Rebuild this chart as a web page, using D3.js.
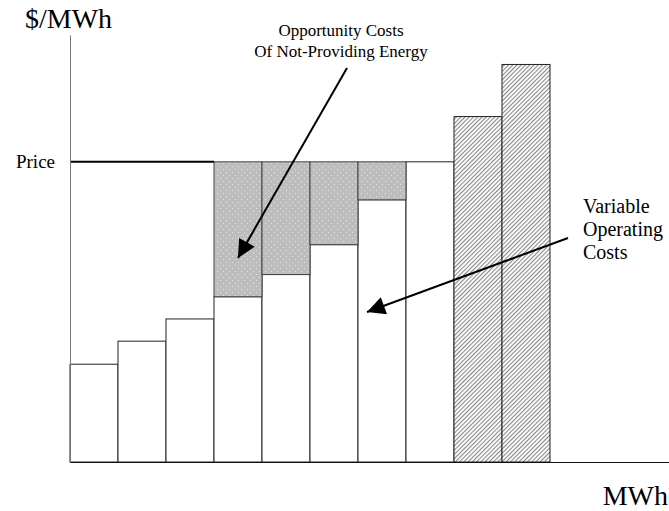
<!DOCTYPE html>
<html>
<meta charset="utf-8">
<style>
  body { margin: 0; background: #fff; }
  text { font-family: "Liberation Serif", "Times New Roman", serif; fill: #000; }
  .axis path { stroke-width: 1px; }
</style>
<script src="https://d3js.org/d3.v7.min.js"></script>
<body>
<script>
  var svgWidth = 669, svgHeight = 511;

  // one bar per generating unit, 1 MWh wide each
  var units = ["U1", "U2", "U3", "U4", "U5", "U6", "U7", "U8", "U9", "U10"];
  var costs = [22.9, 28.3, 33.5, 38.7, 43.9, 50.9, 61.4, 70.3, 80.9, 93.1];
  var kinds = ["plain", "plain", "plain", "opp", "opp", "opp", "opp", "plain", "hatch", "hatch"];
  var price = 70.3;

  var svg = d3.select("body").append("svg")
    .attr("width", svgWidth)
    .attr("height", svgHeight);

  var defs = svg.append("defs");

  // grey fill with little white dots
  var dots = defs.append("pattern")
    .attr("id", "dots")
    .attr("patternUnits", "userSpaceOnUse")
    .attr("width", 6).attr("height", 6);
  dots.append("rect").attr("width", 6).attr("height", 6).attr("fill", "#bdbdbd");
  dots.append("rect").attr("x", 1).attr("y", 1).attr("width", 1).attr("height", 1).attr("fill", "#e4e4e4");
  dots.append("rect").attr("x", 4).attr("y", 4).attr("width", 1).attr("height", 1).attr("fill", "#e4e4e4");

  // diagonal hatch
  var hatch = defs.append("pattern")
    .attr("id", "hatch")
    .attr("patternUnits", "userSpaceOnUse")
    .attr("width", 3).attr("height", 3)
    .attr("patternTransform", "rotate(45)");
  hatch.append("rect").attr("width", 3).attr("height", 3).attr("fill", "#fff");
  hatch.append("line").attr("x1", 0).attr("y1", 0).attr("x2", 0).attr("y2", 3)
    .attr("stroke", "#888").attr("stroke-width", 2.2);

  defs.append("marker")
    .attr("id", "head")
    .attr("viewBox", "0 0 10 10")
    .attr("refX", 10).attr("refY", 5)
    .attr("markerUnits", "userSpaceOnUse")
    .attr("markerWidth", 22).attr("markerHeight", 18)
    .attr("orient", "auto")
    .append("path").attr("d", "M0,0L10,5L0,10z").attr("fill", "#000");

  var x = d3.scaleLinear().domain([0, 12.5]).range([70, 670]);
  var y = d3.scaleLinear().domain([0, 100]).range([462, 35]);

  // bars
  svg.selectAll(".bar")
    .data(costs)
    .enter().append("rect")
    .attr("class", "bar")
    .attr("x", function(d, i) { return x(i); })
    .attr("y", function(d) { return y(d); })
    .attr("width", x(1) - x(0))
    .attr("height", function(d) { return y(0) - y(d); })
    .attr("fill", function(d, i) { return kinds[i] == "hatch" ? "url(#hatch)" : "#fff"; })
    .attr("stroke", "#222")
    .attr("stroke-width", 1);

  // opportunity cost blocks between cost and price
  svg.selectAll(".opp")
    .data(costs.map(function(c, i) { return {c: c, i: i}; }).filter(function(d) { return kinds[d.i] == "opp"; }))
    .enter().append("rect")
    .attr("class", "opp")
    .attr("x", function(d) { return x(d.i); })
    .attr("y", y(price))
    .attr("width", x(1) - x(0))
    .attr("height", function(d) { return y(d.c) - y(price); })
    .attr("fill", "url(#dots)")
    .attr("stroke", "#444")
    .attr("stroke-width", 1);

  // price line
  svg.append("line")
    .attr("x1", x(0)).attr("x2", x(3))
    .attr("y1", y(price)).attr("y2", y(price))
    .attr("stroke", "#000").attr("stroke-width", 2);

  // axes
  svg.append("g").attr("class", "axis")
    .attr("transform", "translate(" + x(0) + ",0)")
    .call(d3.axisLeft(y).tickValues([]).tickSizeOuter(0))
    .select("path").attr("stroke", "#777");

  svg.append("g").attr("class", "axis")
    .attr("transform", "translate(0," + y(0) + ")")
    .call(d3.axisBottom(x).tickValues([]).tickSizeOuter(0))
    .select("path").attr("stroke", "#111");

  // labels
  svg.append("text").attr("x", 25).attr("y", 28).attr("font-size", 28).text("$/MWh");
  svg.append("text").attr("x", 668).attr("y", 505).attr("font-size", 28)
    .attr("text-anchor", "end").text("MWh");
  svg.append("text").attr("x", 55).attr("y", 168).attr("font-size", 19)
    .attr("text-anchor", "end").text("Price");

  var oppLabel = svg.append("text").attr("font-size", 17).attr("text-anchor", "middle");
  oppLabel.append("tspan").attr("x", 341).attr("y", 36).text("Opportunity Costs");
  oppLabel.append("tspan").attr("x", 341).attr("y", 57).text("Of Not-Providing Energy");

  var side = svg.append("text").attr("font-size", 20);
  ["Variable", "Operating", "Costs"].forEach(function(s, i) {
    side.append("tspan").attr("x", 583).attr("y", 213 + i * 23).text(s);
  });

  // arrows
  svg.append("line")
    .attr("x1", 347).attr("y1", 68).attr("x2", 238).attr("y2", 258)
    .attr("stroke", "#000").attr("stroke-width", 2)
    .attr("marker-end", "url(#head)");
  svg.append("line")
    .attr("x1", 568).attr("y1", 238).attr("x2", 367).attr("y2", 312)
    .attr("stroke", "#000").attr("stroke-width", 2)
    .attr("marker-end", "url(#head)");
</script>
</body>
</html>
